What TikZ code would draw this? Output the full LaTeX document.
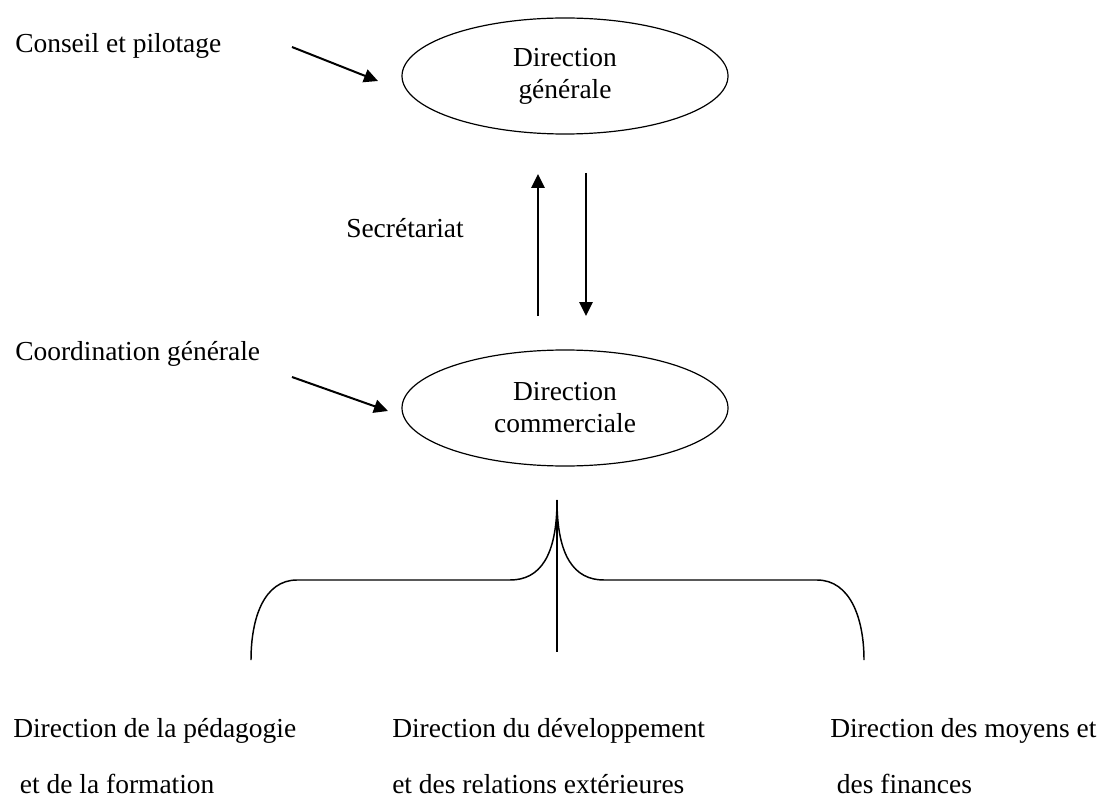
\documentclass[tikz,border=0pt]{standalone}
\usepackage{fontspec}
\setmainfont{Liberation Serif}
\usetikzlibrary{shapes.geometric, arrows.meta}
\tikzstyle{Arrow} = [
line width=1.5pt,
-{Triangle[length=10.5pt, width=10pt]}]
\tikzstyle{Oval} = [
ellipse,
draw,
line width=0.9pt,
minimum width=244.5pt,
minimum height=87pt,
inner sep=0pt,
align=center]
\tikzstyle{Label} = [
inner sep=0pt,
anchor=base west]
\tikzstyle{Brace} = [
line width=1.1pt]

\begin{document}
\begin{tikzpicture}[x=0.75pt, y=-0.75pt, font=\fontsize{20.6}{24}\selectfont]
    \useasboundingbox (0,0) rectangle (1102,802);
    \node [Oval] (1) at (565,76) {Direction\\générale};
    \node [Oval] (2) at (565,408) {Direction\\commerciale};
    \node [Label] (3) at (15,53) {Conseil et pilotage};
    \node [Label] (4) at (15,360) {Coordination générale};
    \node [Label] (5) at (346,238) {Secrétariat};
    \node [Label, align=left] (6) at (13,793) {Direction de la pédagogie\\[18pt]\hspace{5pt}et de la formation};
    \node [Label, align=left] (7) at (392,793) {Direction du développement\\[18pt]et des relations extérieures};
    \node [Label, align=left] (8) at (830,793) {Direction des moyens et\\[18pt]\hspace{5pt}des finances};

    \coordinate (a1) at (292,47);
    \coordinate (b1) at (378,81);
    \coordinate (a2) at (292,377);
    \coordinate (b2) at (388,411);
    \coordinate (up1) at (538,316);
    \coordinate (up2) at (538,174);
    \coordinate (dn1) at (586,173);
    \coordinate (dn2) at (586,316);
    \coordinate (tip) at (557,500);
    \coordinate (stem) at (557,652);

    \draw[Arrow] (a1) -- (b1);
    \draw[Arrow] (a2) -- (b2);
    \draw[Arrow] (up1) -- (up2);
    \draw[Arrow] (dn1) -- (dn2);
    \draw[Brace] (251,660) .. controls (251,618) and (264,580) .. (297,580) -- (510,580)
        .. controls (540,580) and (557,556) .. (tip)
        .. controls (557,556) and (574,580) .. (604,580) -- (817,580)
        .. controls (850,580) and (864,618) .. (864,660);
    \draw[Brace] (tip) -- (stem);
\end{tikzpicture}
\end{document}
